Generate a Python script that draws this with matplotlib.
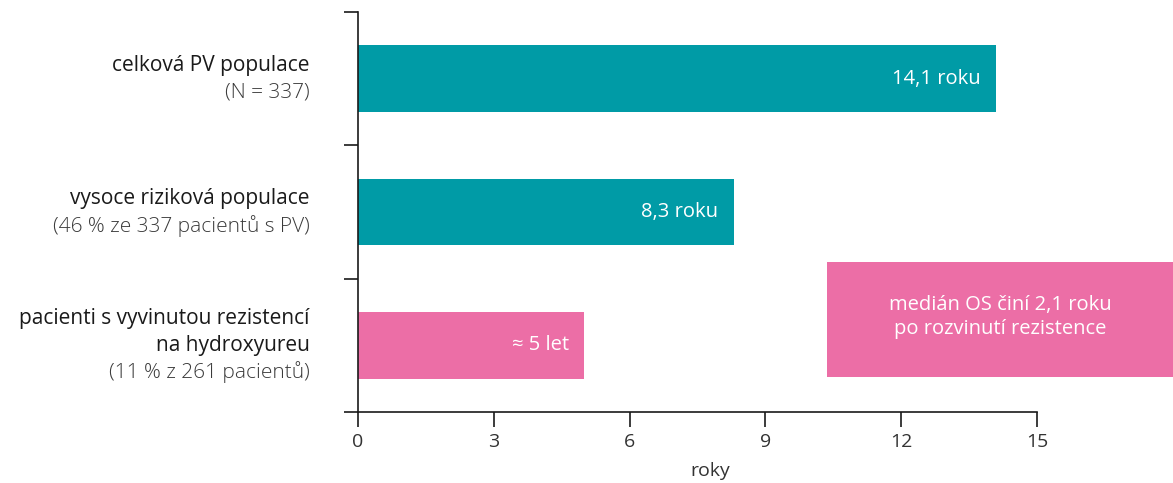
import matplotlib
matplotlib.use("Agg")
import matplotlib.pyplot as plt
from matplotlib.patches import Rectangle
import numpy as np

plt.rcParams['font.family'] = ['Open Sans', 'DejaVu Sans']

# data
groups = [['celková PV populace'], ['vysoce riziková populace'],
          ['pacienti s vyvinutou rezistencí', 'na hydroxyureu']]
subtitles = ['(N = 337)', '(46 % ze 337 pacientů s PV)', '(11 % z 261 pacientů)']
values = [14.1, 8.3, 5.0]
value_labels = ['14,1 roku', '8,3 roku', '≈ 5 let']
bar_colors = ['#009ba6', '#009ba6', '#ec6ea6']
xticks = [0, 3, 6, 9, 12, 15]
note_text = 'medián OS činí 2,1 roku\npo rozvinutí rezistence'

pink = '#ec6ea6'
dark = '#1a1a1a'

fig = plt.figure(figsize=(11.73, 4.83), dpi=100)
ax = fig.add_axes([358/1173, 1 - 412/483, (1037 - 358)/1173, 400/483])

y = np.arange(len(values))
bars = ax.barh(y, values, height=0.5, color=bar_colors)

for rect, lab in zip(bars, value_labels):
    ax.annotate(lab, xy=(rect.get_width(), rect.get_y() + rect.get_height()/2),
                xytext=(-11, 0), textcoords='offset points',
                ha='right', va='center', color='white', fontsize=14.5)

ax.set_xlim(0, 15)
ax.set_ylim(2.5, -0.5)
ax.set_xticks(xticks)
ax.set_xticklabels([str(t) for t in xticks], fontsize=14, color='#333333')
ax.tick_params(axis='x', length=11, width=1.2, color=dark, pad=4)

ax.set_yticks([-0.5, 0.5, 1.5, 2.5])
ax.set_yticklabels([])
ax.tick_params(axis='y', length=10, width=1.2, color=dark)

for s in ['top', 'right']:
    ax.spines[s].set_visible(False)
for s in ['left', 'bottom']:
    ax.spines[s].set_linewidth(1.2)
    ax.spines[s].set_color(dark)

ax.set_xlabel('roky', fontsize=14, color='#333333')
ax.xaxis.set_label_coords((710 - 358) / (1037 - 358), -0.125)

# category labels, one text per line
step = 19.5  # points between lines
for yi, g, sub in zip(y, groups, subtitles):
    lines = [(t, dark, 'normal') for t in g] + [(sub, '#3a3a3a', 'light')]
    n = len(lines)
    for i, (t, c, w) in enumerate(lines):
        off = -(i - (n - 1) / 2) * step
        ax.annotate(t, xy=(0, yi), xycoords='data',
                    xytext=(-35, off), textcoords='offset points',
                    ha='right', va='center', fontsize=15, color=c,
                    fontweight=w, annotation_clip=False)

# note box
box_x0, box_x1 = 10.36, 18.0
box_y0, box_y1 = 1.375, 2.24
ax.add_patch(Rectangle((box_x0, box_y0), box_x1 - box_x0, box_y1 - box_y0,
                       facecolor=pink, edgecolor='none', clip_on=False))
ax.text((box_x0 + box_x1) / 2, (box_y0 + box_y1) / 2 - 0.02, note_text,
        ha='center', va='center', color='white', fontsize=14.5,
        linespacing=1.3, clip_on=False)

fig.savefig('out.png', dpi=100)
